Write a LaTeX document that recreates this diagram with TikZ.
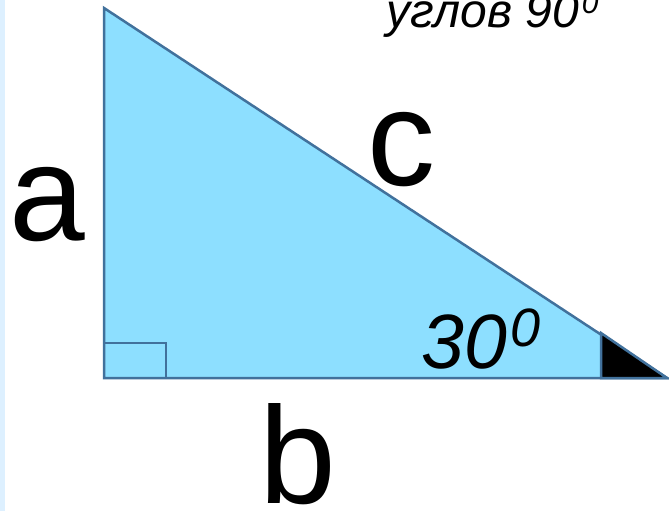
\documentclass[tikz,border=0pt]{standalone}
\usepackage{fontspec}
\setmainfont{Liberation Sans}
\usepackage{xcolor}
\definecolor{trifill}{HTML}{8DDFFF}
\definecolor{triedge}{HTML}{41719C}
\definecolor{stripbg}{HTML}{DDF0FF}
\newcommand{\sz}[1]{\fontsize{#1}{#1}\selectfont}

\begin{document}
\begin{tikzpicture}[
  x=1pt, y=-1pt,
  tri/.style={fill=trifill, draw=triedge, line width=2.5pt, line join=miter},
  angmark/.style={draw=triedge, line width=2.5pt},
  lbl/.style={anchor=base west, inner sep=0pt, text=black}
]
  \useasboundingbox[fill=white] (0,0) rectangle (669,511);
  \fill[stripbg] (0,0) rectangle (5,511);

  % triangle corners
  \coordinate (A) at (104,8);
  \coordinate (C) at (104,378);
  \coordinate (B) at (667,378);
  \draw[tri] (A) -- (C) -- (B) -- cycle;

  % right angle and the 30 degree mark
  \coordinate (q1) at (104,343);
  \coordinate (q2) at (166,343);
  \coordinate (q3) at (166,378);
  \draw[angmark] (q1) -- (q2) -- (q3);
  \coordinate (m1) at (601,333);
  \coordinate (m2) at (601,378);
  \filldraw[angmark, fill=black] (m1) -- (m2) -- (B) -- cycle;

  \node[lbl] (la) at (9,240) {\sz{136}a};
  \node[lbl] (lc) at (367,185) {\sz{136}c};
  \node[lbl] (lb) at (259,503) {\sz{138}b};
  \node[lbl] (ang) at (421,368) {\sz{77}\itshape 30\hspace{4pt}\raisebox{22pt}{\sz{54}0}};
  \node[lbl] (top) at (386,28) {\sz{48}\itshape углов 90\hspace{3pt}\raisebox{14pt}{\sz{30}0}};
\end{tikzpicture}
\end{document}
